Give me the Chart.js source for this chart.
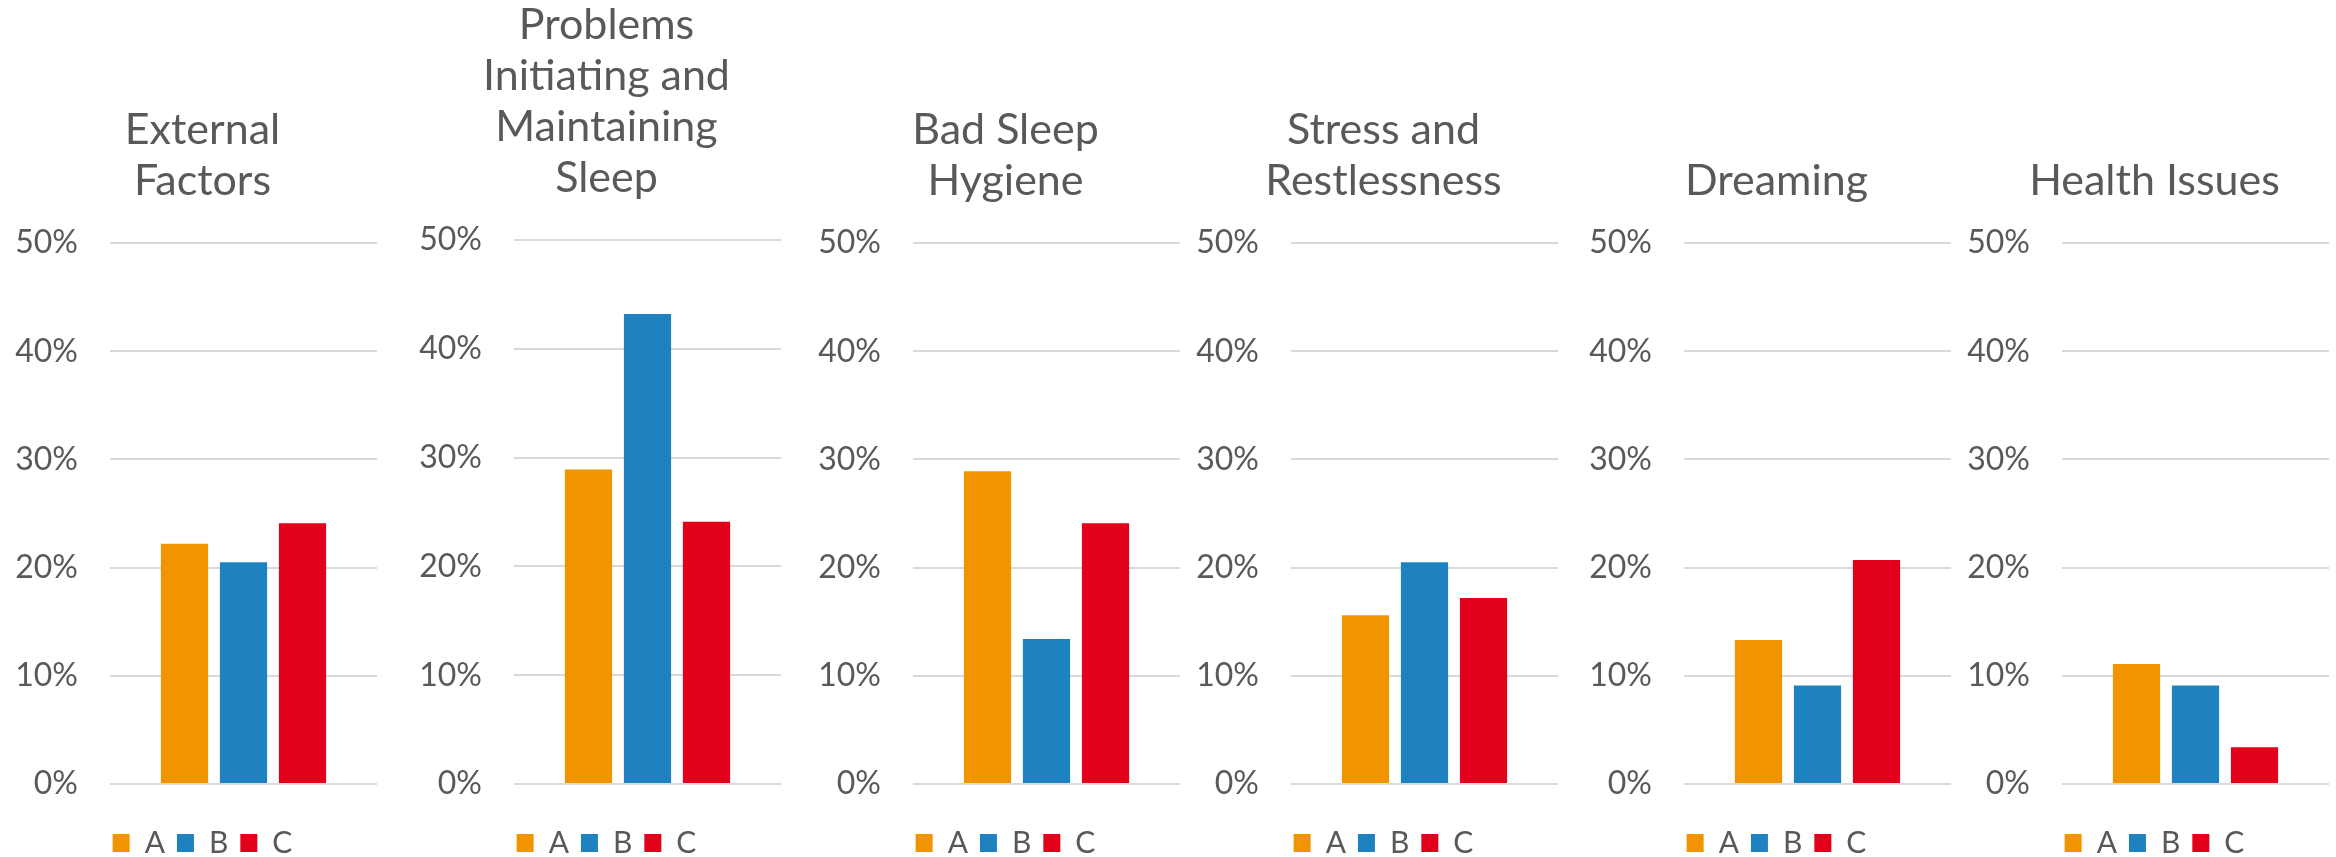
<!DOCTYPE html>
<html>
<head>
<meta charset="utf-8">
<script src="https://cdn.jsdelivr.net/npm/chart.js@4"></script>
<style>
  html, body { margin: 0; padding: 0; background: #ffffff; overflow: hidden; width: 2336px; height: 857px; }
  canvas { position: absolute; top: 0; }
</style>
</head>
<body>
<script>
// ---- data ----
const categories = [
  ['External', 'Factors'],
  ['Problems', 'Initiating and', 'Maintaining', 'Sleep'],
  ['Bad Sleep', 'Hygiene'],
  ['Stress and', 'Restlessness'],
  ['Dreaming'],
  ['Health Issues']
];
const seriesNames = ['A', 'B', 'C'];
const seriesA = [22.2, 28.9, 28.9, 15.6, 13.3, 11.1];
const seriesB = [20.5, 43.2, 13.4, 20.5, 9.1, 9.1];
const seriesC = [24.1, 24.1, 24.1, 17.2, 20.7, 3.4];
const yTicks = [0, 10, 20, 30, 40, 50];

// ---- styling / layout ----
const seriesColors = ['#F29400', '#1F82C0', '#E3001B'];
const canvasLeft = [8, 412, 811, 1189, 1582, 1960];
const canvasWidth = 369;
const canvasHeight = 870;
const textColor = '#595959';
const fontFamily = 'Lato, "Open Sans", sans-serif';
const tickFontSize = 32;
const labelGap = 32;

function tickText(v) { return v + '%'; }

function draw() {
  const allSeries = [seriesA, seriesB, seriesC];
  const mctx = document.createElement('canvas').getContext('2d');
  mctx.font = tickFontSize + 'px ' + fontFamily;
  const widest = Math.max(...yTicks.map(v => mctx.measureText(tickText(v)).width));

  categories.forEach((title, i) => {
    const cv = document.createElement('canvas');
    cv.width = canvasWidth;
    cv.height = canvasHeight;
    cv.style.left = canvasLeft[i] + 'px';
    cv.style.width = canvasWidth + 'px';
    cv.style.height = canvasHeight + 'px';
    document.body.appendChild(cv);
    const nLines = title.length;
    new Chart(cv, {
      type: 'bar',
      data: {
        labels: [title.join(' ')],
        datasets: seriesNames.map((name, k) => ({
          label: name,
          data: [allSeries[k][i]],
          backgroundColor: seriesColors[k],
          borderWidth: 0,
          categoryPercentage: 0.663,
          barPercentage: 0.8
        }))
      },
      options: {
        responsive: false,
        animation: false,
        devicePixelRatio: 1,
        layout: { padding: { left: 20, right: 0, top: nLines === 4 ? 0 : (4 - nLines) * 51 + 3, bottom: 2 } },
        plugins: {
          title: {
            display: true,
            text: title,
            color: textColor,
            font: { family: fontFamily, size: 43, weight: 'normal', lineHeight: '51px' },
            padding: { top: 0, bottom: 36 }
          },
          legend: {
            display: true,
            position: 'bottom',
            labels: {
              color: textColor,
              font: { family: fontFamily, size: 30 },
              boxWidth: 17,
              boxHeight: 18,
              padding: 12
            }
          },
          tooltip: { enabled: false }
        },
        scales: {
          x: {
            display: true,
            grid: { display: false },
            border: { display: false },
            ticks: { display: false },
            afterFit: s => { s.height = 32; }
          },
          y: {
            min: yTicks[0],
            max: yTicks[yTicks.length - 1],
            afterBuildTicks: s => { s.ticks = yTicks.map(v => ({ value: v })); },
            afterFit: s => { s.width = 82; },
            grid: { color: '#D9D9D9', lineWidth: 2, drawTicks: false },
            border: { display: false },
            ticks: {
              color: textColor,
              mirror: true,
              crossAlign: 'far',
              padding: -labelGap - widest,
              font: { family: fontFamily, size: tickFontSize },
              callback: v => tickText(v)
            }
          }
        }
      }
    });
  });
}

if (document.fonts && document.fonts.load) {
  Promise.all([
    document.fonts.load('43px Lato'),
    document.fonts.load('32px Lato'),
    document.fonts.load('30px Lato')
  ]).then(draw, draw);
} else {
  draw();
}
</script>
</body>
</html>
